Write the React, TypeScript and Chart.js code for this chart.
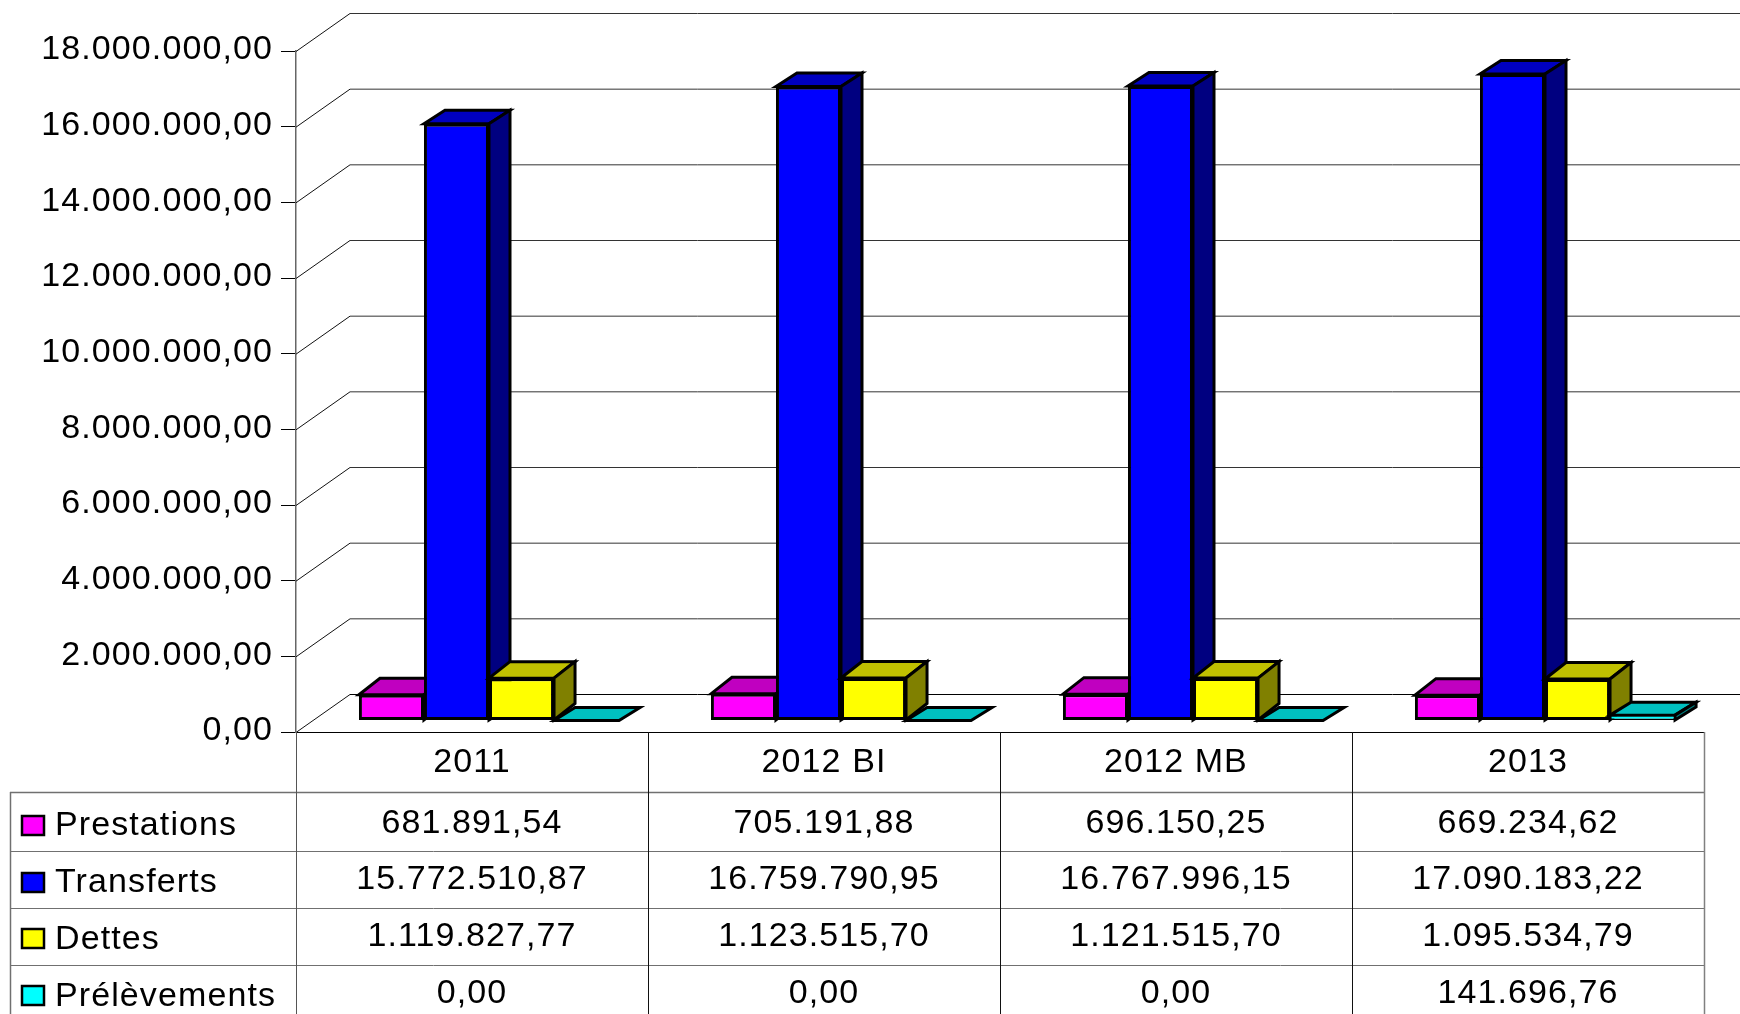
import React, { useEffect, useRef } from "react";
import { Chart, registerables } from "chart.js";

Chart.register(...registerables);

const categories = ["2011", "2012 BI", "2012 MB", "2013"];
const seriesNames = ["Prestations", "Transferts", "Dettes", "Prélèvements"];
const prestations = [681891.54, 705191.88, 696150.25, 669234.62];
const transferts = [15772510.87, 16759790.95, 16767996.15, 17090183.22];
const dettes = [1119827.77, 1123515.7, 1121515.7, 1095534.79];
const prelevements = [0, 0, 0, 141696.76];
const seriesValues = [prestations, transferts, dettes, prelevements];

const frontColors = ["#FF00FF", "#0000FF", "#FFFF00", "#00FFFF"];
const topColors = ["#C000C0", "#0000C0", "#C0C000", "#00C0C0"];
const sideColors = ["#800080", "#000080", "#808000", "#008080"];

const FONT_SIZE = 34;
const FONT = `${FONT_SIZE}px "Liberation Sans"`;
const SPACING = "1.1px";
const WALL_DX = 54;
const WALL_DY = 38;
const FLOOR_DX = 17;
const FLOOR_DY = 11.5;
const BAR_DX = 21;
const BAR_DY = [16.5, 13.5, 16.5, 13];
const ROW_LINES = [792, 851, 908, 965];
const ROW_BASELINES = [833, 889, 946, 1003];
const LABEL_BASELINES = [835, 892, 949, 1006];
const SWATCH_TOPS = [816, 873, 929, 986];

const fmt = (v: number) =>
  v.toLocaleString("de-DE", { minimumFractionDigits: 2, maximumFractionDigits: 2 });

const line = (ctx: any, x1: number, y1: number, x2: number, y2: number, color: string, w = 1) => {
  ctx.strokeStyle = color;
  ctx.lineWidth = w;
  ctx.beginPath();
  ctx.moveTo(x1, y1);
  ctx.lineTo(x2, y2);
  ctx.stroke();
};

const poly = (ctx: any, pts: number[][], fill: string) => {
  ctx.fillStyle = fill;
  ctx.strokeStyle = "#000";
  ctx.lineWidth = 3;
  ctx.lineJoin = "miter";
  ctx.beginPath();
  pts.forEach((p, i) => (i ? ctx.lineTo(p[0], p[1]) : ctx.moveTo(p[0], p[1])));
  ctx.closePath();
  ctx.fill();
  ctx.stroke();
};

const scene = {
  id: "scene3d",
  beforeDraw(chart: any) {
    chart.ctx.letterSpacing = SPACING;
  },
  beforeDatasetsDraw(chart: any) {
    const { ctx, scales, chartArea, width } = chart;
    const y = scales.y;
    const x = scales.x;
    const left = chartArea.left;
    const right = chartArea.right;
    const bottom = chartArea.bottom;

    ctx.save();
    // back wall and side wall lines
    y.ticks.forEach((t: any) => {
      const py = y.getPixelForValue(t.value) + 0.5;
      line(ctx, left, py, left + WALL_DX, py - WALL_DY, "#111");
      line(ctx, left + WALL_DX, py - WALL_DY, width, py - WALL_DY, t.value === 0 ? "#000" : "#333");
    });

    // data table
    const catW = (right - left) / categories.length;
    ROW_LINES.forEach((ry, i) =>
      line(ctx, 10, ry + 0.5, right, ry + 0.5, "#707070", i === 0 ? 1.5 : 1)
    );
    line(ctx, 10.5, ROW_LINES[0], 10.5, 1014, "#707070", 1.5);
    for (let i = 0; i <= categories.length; i++) {
      const vx = Math.round(left + i * catW) + 0.5;
      line(ctx, vx, bottom, vx, 1014, i === categories.length ? "#808080" : i === 0 ? "#555" : "#111", i === categories.length ? 1.5 : 1);
    }
    ctx.font = FONT;
    ctx.letterSpacing = SPACING;
    ctx.textBaseline = "alphabetic";
    seriesNames.forEach((name, r) => {
      ctx.fillStyle = frontColors[r];
      ctx.strokeStyle = "#000";
      ctx.lineWidth = 2.5;
      ctx.fillRect(22, SWATCH_TOPS[r], 22, 19);
      ctx.strokeRect(22, SWATCH_TOPS[r], 22, 19);
      ctx.fillStyle = "#000";
      ctx.textAlign = "left";
      ctx.fillText(name, 55, LABEL_BASELINES[r]);
      ctx.textAlign = "center";
      seriesValues[r].forEach((v, c) => {
        ctx.fillText(fmt(v), x.getPixelForTick(c), ROW_BASELINES[r]);
      });
    });

    // bars, left to right, each with its 3D faces, standing inside the floor
    ctx.translate(FLOOR_DX, -FLOOR_DY);
    chart.data.datasets.forEach((_: any, i: number) => {
      const meta = chart.getDatasetMeta(i);
      const dy = BAR_DY[i];
      meta.data.forEach((bar: any) => {
        const p = bar.getProps(["x", "y", "base", "width"], true);
        const l = p.x - p.width / 2;
        const r = p.x + p.width / 2;
        poly(ctx, [[l, p.y], [l + BAR_DX, p.y - dy], [r + BAR_DX, p.y - dy], [r, p.y]], topColors[i]);
        if (p.base - p.y > 0) {
          poly(ctx, [[r, p.y], [r + BAR_DX, p.y - dy], [r + BAR_DX, p.base - dy], [r, p.base]], sideColors[i]);
        }
      });
      meta.controller.draw();
    });
    ctx.restore();
    return false;
  },
};

export default function App() {
  const ref = useRef<HTMLCanvasElement>(null);
  useEffect(() => {
    const chart = new Chart(ref.current as HTMLCanvasElement, {
      type: "bar",
      data: {
        labels: categories,
        datasets: seriesNames.map((name, i) => ({
          label: name,
          data: seriesValues[i],
          backgroundColor: frontColors[i],
          borderColor: "#000",
          borderWidth: (c: any) => (c.raw > 0 && c.raw < 300000 ? 1.5 : 3),
          borderSkipped: false,
          categoryPercentage: 0.739,
          barPercentage: 1,
          clip: false,
        })),
      } as any,
      options: {
        responsive: false,
        animation: false,
        layout: { padding: { top: 51, right: 36, left: 0, bottom: 0 } },
        plugins: { legend: { display: false }, tooltip: { enabled: false }, title: { display: false } },
        scales: {
          x: {
            afterFit: (s: any) => {
              s.height = 282;
            },
            grid: { display: false },
            border: { color: "#000", width: 1 },
            ticks: { color: "#000", font: { family: "Liberation Sans", size: FONT_SIZE }, padding: 2, maxRotation: 0 },
          },
          y: {
            min: 0,
            max: 18000000,
            afterFit: (s: any) => {
              s.width = 296;
            },
            grid: { drawOnChartArea: false, drawTicks: true, tickLength: 15, tickColor: "#000" },
            border: { color: "#666", width: 1.5 },
            ticks: {
              stepSize: 2000000,
              color: "#000",
              font: { family: "Liberation Sans", size: FONT_SIZE },
              padding: 8,
              labelOffset: -1,
              callback: (v: any) => fmt(Number(v)),
            },
          },
        },
      } as any,
      plugins: [scene as any],
    });
    return () => chart.destroy();
  }, []);
  return (
    <div style={{ position: "absolute", left: 0, top: 0, width: 1740, height: 1014, overflow: "hidden", background: "#fff" }}>
      <canvas ref={ref} width={1740} height={1014} style={{ display: "block" }} />
    </div>
  );
}
